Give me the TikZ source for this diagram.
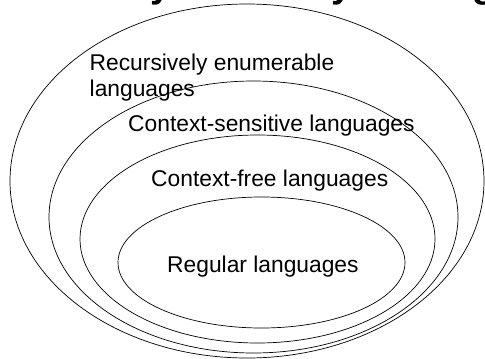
\documentclass[tikz,border=0pt]{standalone}
\usepackage{fontspec}
\setmainfont{Liberation Sans}
\begin{document}
\begin{tikzpicture}[x=1pt,y=-1pt,
  set/.style={draw=black,line width=0.7pt},
  lbl/.style={inner sep=0pt,anchor=base west,font=\fontsize{22.8}{26.7}\selectfont},
  ttl/.style={inner sep=0pt,anchor=base west,font=\bfseries\fontsize{37}{44}\selectfont}]
\useasboundingbox (0,0) rectangle (485,359);
\clip (0,0) rectangle (485,359);
\node[ttl] (title) at (4,-3) {Chomsky Hierarchy of Languages};
\draw[set] (247,181) ellipse [x radius=237pt, y radius=177pt];
\draw[set] (253.5,217) ellipse [x radius=204.5pt, y radius=136pt];
\draw[set] (257.5,239) ellipse [x radius=177.5pt, y radius=104pt];
\draw[set] (261.5,262.5) ellipse [x radius=143.5pt, y radius=65.5pt];
\node[lbl] (re1) at (89.5,70) {Recursively enumerable};
\node[lbl] (re2) at (89.5,96.7) {languages};
\node[lbl] (cs) at (128,131.7) {Context-sensitive languages};
\node[lbl] (cf) at (151,186.7) {Context-free languages};
\node[lbl] (rg) at (167,272.7) {Regular languages};
\end{tikzpicture}
\end{document}
